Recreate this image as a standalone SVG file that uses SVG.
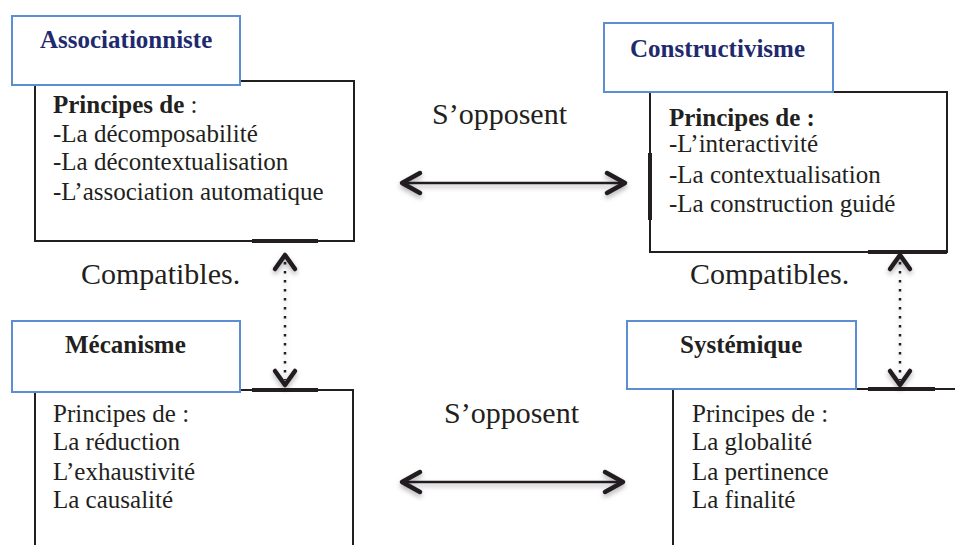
<svg xmlns="http://www.w3.org/2000/svg" width="955" height="545" viewBox="0 0 955 545">
<style>
.bx{fill:#fff;stroke:#231f20;stroke-width:2}
.tb{fill:#fff;stroke:#5b8fd1;stroke-width:2}
.thick{stroke:#231f20;stroke-width:4;fill:none}
.t{font-family:"Liberation Serif","Times New Roman",serif;font-size:25px;fill:#231f20}
.b{font-weight:bold}
.nv{fill:#1f2a6e}
.lab{font-family:"Liberation Serif","Times New Roman",serif;font-size:30px;fill:#231f20}
.ln{stroke:#231f20;stroke-width:2.5;fill:none}
.hd{stroke:#231f20;stroke-width:4.5;fill:none;stroke-linecap:round;stroke-linejoin:round}
.dot{stroke:#231f20;stroke-width:2.5;fill:none;stroke-dasharray:2.5 6.5}
</style>
<defs>
<filter id="sh" x="-10%" y="-50%" width="120%" height="200%">
<feDropShadow dx="0" dy="3" stdDeviation="2.5" flood-color="#000" flood-opacity="0.3"/>
</filter>
</defs>
<rect width="955" height="545" fill="#fff"/>

<g id="associationniste">
<rect class="bx" x="35" y="81" width="319" height="160"/>
<line class="thick" x1="252" y1="241" x2="318" y2="241"/>
<rect class="tb" x="12" y="16" width="228" height="69"/>
<text class="t b nv" x="40" y="48">Associationniste</text>
<text class="t" x="53" y="113"><tspan class="b">Principes de</tspan> :</text>
<text class="t" x="53" y="142">-La décomposabilité</text>
<text class="t" x="53" y="170">-La décontextualisation</text>
<text class="t" x="53" y="200">-L’association automatique</text>
</g>

<g id="constructivisme">
<rect class="bx" x="650" y="92" width="297" height="160"/>
<line class="thick" x1="650" y1="153" x2="650" y2="220"/>
<line class="thick" x1="868" y1="252" x2="947" y2="252"/>
<rect class="tb" x="604" y="23" width="229" height="69"/>
<text class="t b nv" x="630" y="57">Constructivisme</text>
<text class="t b" x="669" y="126">Principes de :</text>
<text class="t" x="669" y="152">-L’interactivité</text>
<text class="t" x="669" y="183">-La contextualisation</text>
<text class="t" x="669" y="212">-La construction guidé</text>
</g>

<g id="mecanisme">
<rect class="bx" x="35" y="390" width="318" height="170"/>
<line class="thick" x1="252" y1="390" x2="318" y2="390"/>
<rect class="tb" x="12" y="321" width="228" height="71"/>
<text class="t b" x="65" y="353">Mécanisme</text>
<text class="t" x="53" y="422">Principes de :</text>
<text class="t" x="53" y="450">La réduction</text>
<text class="t" x="53" y="480">L’exhaustivité</text>
<text class="t" x="53" y="508">La causalité</text>
</g>

<g id="systemique">
<rect class="bx" x="673" y="389" width="300" height="170"/>
<line class="thick" x1="868" y1="389" x2="935" y2="389"/>
<rect class="tb" x="627" y="321" width="229" height="68"/>
<text class="t b" x="680" y="353">Systémique</text>
<text class="t" x="692" y="422">Principes de :</text>
<text class="t" x="692" y="450">La globalité</text>
<text class="t" x="692" y="480">La pertinence</text>
<text class="t" x="692" y="508">La finalité</text>
</g>

<g id="connectors">
<g filter="url(#sh)">
<line class="ln" x1="402" y1="183" x2="625" y2="183"/>
<path class="hd" d="M420,173 L402,183 L420,193"/>
<path class="hd" d="M607,173 L625,183 L607,193"/>
<line class="ln" x1="402" y1="482" x2="623" y2="482"/>
<path class="hd" d="M420,472 L402,482 L420,492"/>
<path class="hd" d="M605,472 L623,482 L605,492"/>
<line class="dot" x1="285" y1="262" x2="285" y2="380"/>
<path class="hd" d="M275,269 L285,255 L295,269"/>
<path class="hd" d="M275,371 L285,385 L295,371"/>
<line class="dot" x1="900" y1="262" x2="900" y2="380"/>
<path class="hd" d="M890,269 L900,255 L910,269"/>
<path class="hd" d="M890,371 L900,385 L910,371"/>
</g>
<text class="lab" x="432" y="124">S’opposent</text>
<text class="lab" x="444" y="423">S’opposent</text>
<text class="lab" x="81" y="284">Compatibles.</text>
<text class="lab" x="690" y="284">Compatibles.</text>
</g>
</svg>
